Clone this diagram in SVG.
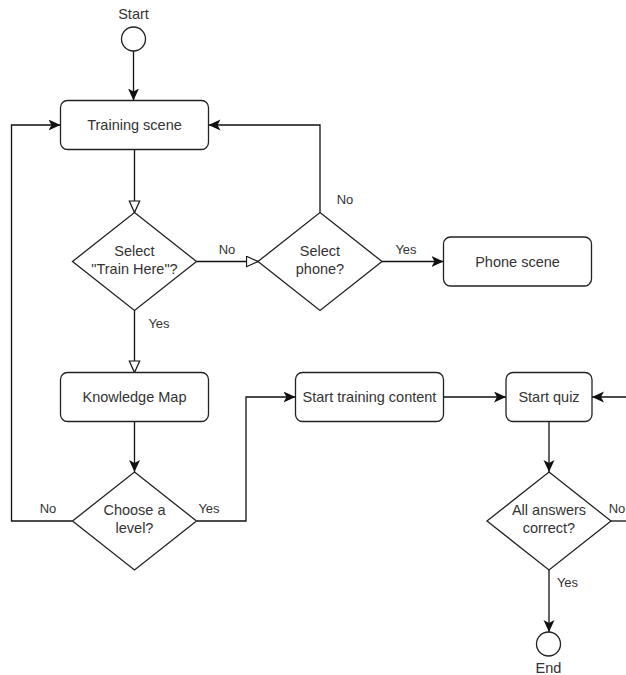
<svg xmlns="http://www.w3.org/2000/svg" width="626" height="675" viewBox="0 0 626 675">
  <defs>
    <marker id="arr" markerUnits="userSpaceOnUse" markerWidth="13" markerHeight="12" refX="12" refY="5.5" orient="auto">
      <path d="M0,0 L12,5.5 L0,11 L3,5.5 Z" fill="#111"/>
    </marker>
    <marker id="open" markerUnits="userSpaceOnUse" markerWidth="14" markerHeight="13" refX="12.5" refY="6" orient="auto">
      <path d="M1,0.8 L12.5,6 L1,11.2 Z" fill="#fff" stroke="#111" stroke-width="1.2"/>
    </marker>
  </defs>
  <style>
    .shape { fill: #fff; stroke: #222; stroke-width: 1.3; }
    .edge { fill: none; stroke: #111; stroke-width: 1.3; }
    .t { font-family: "Liberation Sans", Arial, sans-serif; font-size: 14.5px; fill: #333; text-anchor: middle; dominant-baseline: central; }
    .lbl { font-family: "Liberation Sans", Arial, sans-serif; font-size: 13px; fill: #333; text-anchor: middle; dominant-baseline: central; }
  </style>
  <rect width="626" height="675" fill="#fff"/>

  <g id="connectors">
    <path class="edge" d="M133.5,51 L133.5,100.5" marker-end="url(#arr)"/>
    <path class="edge" d="M134.5,149.5 L134.5,212.5" marker-end="url(#open)"/>
    <path class="edge" d="M196.5,261.5 L258,261.5" marker-end="url(#open)"/>
    <path class="edge" d="M320,212.5 L320,125 L208.5,125" marker-end="url(#arr)"/>
    <path class="edge" d="M382,261.5 L443.5,261.5" marker-end="url(#arr)"/>
    <path class="edge" d="M134.5,310.5 L134.5,372.5" marker-end="url(#open)"/>
    <path class="edge" d="M134.5,421.5 L134.5,472" marker-end="url(#arr)"/>
    <path class="edge" d="M72.5,521 L11.5,521 L11.5,125 L60.5,125" marker-end="url(#arr)"/>
    <path class="edge" d="M196.5,521 L246,521 L246,397 L295.5,397" marker-end="url(#arr)"/>
    <path class="edge" d="M443.5,397 L506,397" marker-end="url(#arr)"/>
    <path class="edge" d="M626,397 L592,397" marker-end="url(#arr)"/>
    <path class="edge" d="M549,421.5 L549,472" marker-end="url(#arr)"/>
    <path class="edge" d="M611,521 L626,521"/>
    <path class="edge" d="M549,570 L549,632" marker-end="url(#arr)"/>
    <text class="lbl" x="227" y="249">No</text>
    <text class="lbl" x="345" y="199.5">No</text>
    <text class="lbl" x="406" y="249">Yes</text>
    <text class="lbl" x="159" y="323">Yes</text>
    <text class="lbl" x="48" y="508">No</text>
    <text class="lbl" x="209" y="508">Yes</text>
    <text class="lbl" x="617" y="508">No</text>
    <text class="lbl" x="567.5" y="582">Yes</text>
  </g>

  <g id="start">
    <circle class="shape" cx="133.5" cy="39" r="12"/>
    <text class="t" x="133.5" y="14">Start</text>
  </g>
  <g id="training-scene">
    <rect class="shape" x="60.5" y="100.5" width="148" height="49" rx="7"/>
    <text class="t" x="134.5" y="125">Training scene</text>
  </g>
  <g id="select-train-here">
    <polygon class="shape" points="134.5,212.5 196.5,261.5 134.5,310.5 72.5,261.5"/>
    <text class="t" x="134.5" y="251">Select</text>
    <text class="t" x="134.5" y="269">"Train Here"?</text>
  </g>
  <g id="select-phone">
    <polygon class="shape" points="320,212.5 382,261.5 320,310.5 258,261.5"/>
    <text class="t" x="320" y="251">Select</text>
    <text class="t" x="320" y="268.5">phone?</text>
  </g>
  <g id="phone-scene">
    <rect class="shape" x="443.5" y="237" width="148" height="49" rx="7"/>
    <text class="t" x="517.5" y="261.5">Phone scene</text>
  </g>
  <g id="knowledge-map">
    <rect class="shape" x="60.5" y="372.5" width="148" height="49" rx="7"/>
    <text class="t" x="134.5" y="397">Knowledge Map</text>
  </g>
  <g id="choose-level">
    <polygon class="shape" points="134.5,472 196.5,521 134.5,570 72.5,521"/>
    <text class="t" x="134.5" y="510">Choose a</text>
    <text class="t" x="134.5" y="528">level?</text>
  </g>
  <g id="start-training-content">
    <rect class="shape" x="295.5" y="372.5" width="148" height="49" rx="7"/>
    <text class="t" x="369.5" y="397">Start training content</text>
  </g>
  <g id="start-quiz">
    <rect class="shape" x="506" y="372.5" width="86" height="49" rx="7"/>
    <text class="t" x="549" y="397">Start quiz</text>
  </g>
  <g id="all-correct">
    <polygon class="shape" points="549,472 611,521 549,570 487,521"/>
    <text class="t" x="549" y="510">All answers</text>
    <text class="t" x="549" y="528">correct?</text>
  </g>
  <g id="end">
    <circle class="shape" cx="548.5" cy="644" r="12"/>
    <text class="t" x="548.5" y="668">End</text>
  </g>
</svg>
